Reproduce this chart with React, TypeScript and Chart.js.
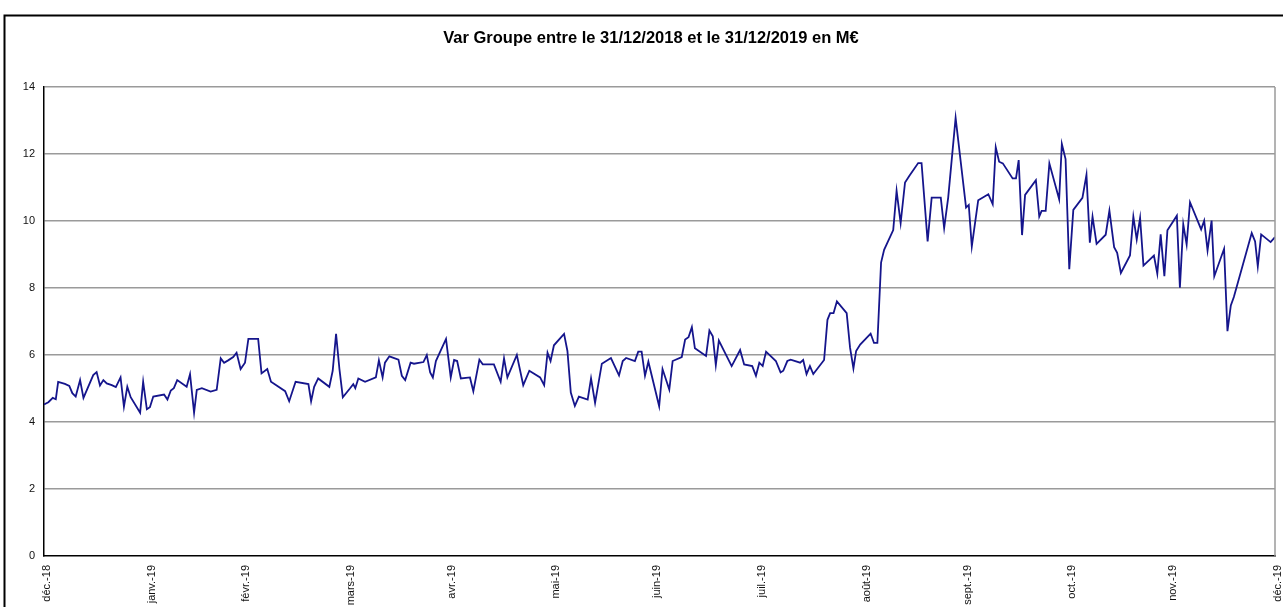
import React, { useEffect, useRef } from 'react';
import { Chart, registerables } from 'chart.js';

Chart.register(...registerables);

const TITLE = 'Var Groupe entre le 31/12/2018 et le 31/12/2019 en M€';
const FONT = '"Liberation Sans", Arial, Helvetica, sans-serif';

// Month-end ticks, in days after 31/12/2018
const monthTickDays = [0, 31, 59, 90, 120, 151, 181, 212, 243, 273, 304, 334, 365];
const monthTickLabels = ['déc.-18', 'janv.-19', 'févr.-19', 'mars-19', 'avr.-19', 'mai-19', 'juin-19', 'juil.-19', 'août-19', 'sept.-19', 'oct.-19', 'nov.-19', 'déc.-19'];

// Observation dates (days after 31/12/2018)
const days = [
  0, 1.3, 2.6, 3.5, 4.2, 6.2, 7.5, 8.4, 9.4, 10.7, 11.7, 14.6, 15.6, 16.6, 17.6, 18.6, 20.1, 21.3, 22.7, 23.7,
  24.7, 25.7, 28.5, 29.4, 30.5, 31.4, 32.4, 35.6, 36.6, 37.6, 38.5, 39.5, 42.3, 43.3, 44.5, 45.3, 46.8, 49.4, 51.2, 52.4,
  53.4, 54.6, 56.1, 57.1, 58.3, 59.6, 60.6, 63.5,
  64.5, 66.2, 67.3, 71.5, 72.7, 74.6, 78.4, 79.2, 80.1, 81.3, 84.6, 85.6, 86.6, 87.6, 88.6, 90.7, 91.7, 92.3, 93.2, 95.2,
  98.4, 99.3, 100.4, 101.1, 102.4, 105.1, 106.1, 107.1, 108.7, 109.7, 112.5, 113.5, 114.5, 115.3, 116.2, 119.2, 120.6, 121.6, 122.5, 123.6,
  126.3,
  127.3, 129.1, 130.1, 133.4, 135.4, 136.4, 137.4, 140.2, 142.1, 143.9, 147.1, 148.3, 149.3, 150.2, 151.2, 154.2, 155.2, 156.2, 157.4, 158.6,
  161.2, 162.2, 163.4, 165.4, 168.1, 170.5, 171.6, 172.6, 175.2, 176.2, 177.2, 178.2, 179.2, 182.4, 183.4, 185.4, 186.4,
  189.1, 190.1, 191.1, 192.1, 193.0, 196.3, 197.3, 198.3, 199.2, 200.1, 203.9, 206.4, 207.6, 210.0, 211.1, 212.1, 213.1, 214.1, 217.0, 218.4,
  219.2, 220.4, 221.4, 224.2, 225.1, 226.1, 227.1, 228.1, 231.3, 232.3, 233.1, 234.1, 235.1, 238.0, 239.0, 240.0, 240.8, 242.0, 245.1, 246.1,
  247.1,
  248.2, 249.1, 251.8, 252.8, 254.0, 255.3, 256.6, 259.2, 260.2, 262.0, 263.2, 265.9, 266.9, 268.1, 270.3, 273.4, 274.2, 275.1, 277.0, 280.0,
  281.3, 282.2, 283.2, 284.3, 287.2, 288.2, 289.0, 290.0, 290.9, 294.1, 295.1, 295.8, 297.0, 298.1, 301.0, 301.8, 302.9, 304.0, 305.2,
  307.9, 309.1, 310.1, 310.9, 312.1, 314.8, 315.9, 317.3, 318.2, 319.3, 322.0, 323.0, 324.0, 325.0, 326.0, 329.1, 330.1, 331.1, 332.2, 333.1,
  335.9, 336.8, 337.8, 338.8, 339.8, 343.1, 344.0, 345.0, 346.2, 347.0, 349.9, 350.9, 351.9, 352.8, 358.1, 359.1, 359.9, 360.9, 363.7, 365,
];

// Var Groupe, M€
const values = [
  4.52, 4.59, 4.72, 4.68, 5.2, 5.14, 5.08, 4.86, 4.76, 5.25, 4.72, 5.4, 5.49, 5.09, 5.25, 5.15, 5.1, 5.04, 5.33, 4.46,
  5.05, 4.74, 4.28, 5.2, 4.38, 4.44, 4.76, 4.82, 4.67, 4.94, 5.01, 5.25, 5.05, 5.43, 4.28, 4.96, 5.01, 4.91, 4.96, 5.9,
  5.77, 5.84, 5.94, 6.07, 5.58, 5.77, 6.48, 6.48,
  5.45, 5.58, 5.2, 4.92, 4.62, 5.2, 5.13, 4.62, 5.05, 5.3, 5.05, 5.53, 6.63, 5.58, 4.74, 5.0, 5.13, 5.01, 5.3, 5.2,
  5.33, 5.84, 5.33, 5.77, 5.96, 5.86, 5.38, 5.25, 5.77, 5.74, 5.79, 6.0, 5.48, 5.33, 5.82, 6.48, 5.33, 5.85, 5.82, 5.3,
  5.33,
  4.92, 5.86, 5.72, 5.72, 5.2, 5.9, 5.33, 6.0, 5.1, 5.53, 5.33, 5.1, 6.07, 5.82, 6.29, 6.63, 6.12, 4.88, 4.48, 4.76,
  4.67, 5.3, 4.57, 5.74, 5.91, 5.39, 5.82, 5.91, 5.82, 6.1, 6.1, 5.38, 5.8, 4.47, 5.58, 4.97, 5.82,
  5.94, 6.46, 6.53, 6.83, 6.2, 5.97, 6.73, 6.56, 5.7, 6.43, 5.67, 6.15, 5.72, 5.67, 5.38, 5.77, 5.67, 6.1, 5.82, 5.48,
  5.53, 5.82, 5.86, 5.77, 5.85, 5.43, 5.67, 5.43, 5.85, 7.05, 7.25, 7.25, 7.6, 7.25, 6.22, 5.6, 6.12, 6.31, 6.64, 6.36,
  6.36,
  8.76, 9.14, 9.73, 10.9, 9.94, 11.15, 11.35, 11.73, 11.73, 9.39, 10.7, 10.7, 9.79, 10.7, 13.08, 10.4, 10.48, 9.24, 10.62, 10.8,
  10.5, 12.2, 11.77, 11.72, 11.27, 11.27, 11.82, 9.58, 10.78, 11.22, 10.13, 10.3, 10.3, 11.72, 10.65, 12.3, 11.85, 8.56, 10.33,
  10.69, 11.38, 9.35, 10.13, 9.32, 9.59, 10.31, 9.22, 9.05, 8.45, 8.97, 10.13, 9.45, 10.09, 8.67, 8.97, 8.43, 9.6, 8.35, 9.72,
  10.16, 8.01, 9.9, 9.3, 10.56, 9.75, 10.01, 9.12, 10.01, 8.35, 9.17, 6.71, 7.48, 7.73, 9.64, 9.39, 8.65, 9.6, 9.37, 9.52,
];

const decor = {
  id: 'decor',
  beforeDraw(chart: any) {
    const { ctx, width, height } = chart;
    ctx.save();
    ctx.fillStyle = '#ffffff';
    ctx.fillRect(0, 0, width, height);
    ctx.restore();
  },
  afterDraw(chart: any) {
    const { ctx, chartArea } = chart;
    ctx.save();
    ctx.strokeStyle = '#9a9a9a';
    ctx.lineWidth = 1.5;
    ctx.beginPath();
    ctx.moveTo(chartArea.right, chartArea.top);
    ctx.lineTo(chartArea.right, chartArea.bottom);
    ctx.stroke();
    ctx.strokeStyle = '#000000';
    ctx.lineWidth = 2;
    ctx.beginPath();
    ctx.moveTo(4.5, 700);
    ctx.lineTo(4.5, 15.5);
    ctx.lineTo(1400, 15.5);
    ctx.stroke();
    ctx.fillStyle = '#000000';
    ctx.font = `bold 16.5px ${FONT}`;
    ctx.textAlign = 'center';
    ctx.textBaseline = 'middle';
    ctx.fillText(TITLE, 651, 38);
    ctx.restore();
  },
};

export default function App() {
  const ref = useRef<HTMLCanvasElement>(null);
  useEffect(() => {
    document.body.style.overflow = 'hidden';
    const chart = new Chart(ref.current as HTMLCanvasElement, {
      type: 'line',
      data: {
        datasets: [
          {
            data: days.map((d, i) => ({ x: d, y: values[i] })),
            borderColor: '#15158c',
            borderWidth: 1.8,
            pointRadius: 0,
            tension: 0,
            fill: false,
          },
        ],
      },
      options: {
        animation: false,
        responsive: false,
        devicePixelRatio: 1,
        layout: { padding: { top: 87, right: 8, left: 0, bottom: 0 } },
        plugins: {
          legend: { display: false },
          tooltip: { enabled: false },
          title: { display: false },
        },
        scales: {
          x: {
            type: 'linear',
            min: 0,
            max: 365,
            afterBuildTicks: (axis: any) => {
              axis.ticks = monthTickDays.map((v) => ({ value: v }));
            },
            afterFit: (axis: any) => {
              axis.height = 51;
              axis.paddingRight = 0;
              axis.paddingLeft = 0;
            },
            grid: { display: false, drawTicks: false },
            border: { color: '#000000', width: 1.5 },
            ticks: {
              autoSkip: false,
              maxRotation: 90,
              minRotation: 90,
              padding: 9,
              labelOffset: 3,
              color: '#111111',
              font: { family: FONT, size: 11 },
              callback: (v: any) => {
                const i = monthTickDays.indexOf(Number(v));
                return i >= 0 ? monthTickLabels[i] : '';
              },
            },
          },
          y: {
            min: 0,
            max: 14,
            afterFit: (axis: any) => {
              axis.width = 44;
            },
            grid: {
              color: (c: any) => (c.tick && c.tick.value === 0 ? 'rgba(0,0,0,0)' : '#9a9a9a'),
              lineWidth: 1.5,
              drawTicks: false,
            },
            border: { color: '#000000', width: 1.5 },
            ticks: {
              stepSize: 2,
              padding: 9,
              color: '#111111',
              font: { family: FONT, size: 11 },
            },
          },
        },
      },
      plugins: [decor],
    });
    return () => chart.destroy();
  }, []);
  return (
    <canvas
      ref={ref}
      width={1283}
      height={607}
      style={{ position: 'absolute', left: 0, top: 0, width: 1283, height: 607, display: 'block' }}
    />
  );
}
